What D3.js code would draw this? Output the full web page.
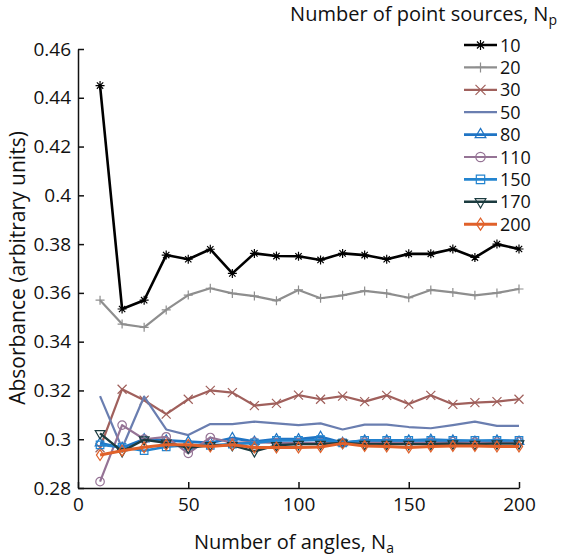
<!DOCTYPE html>
<html lang="en">
<head>
<meta charset="UTF-8">
<title>Absorbance vs number of angles</title>
<script src="https://cdn.jsdelivr.net/npm/d3@7"></script>
<style>
  body { margin: 0; background: #fff; }
  text { font-family: "Open Sans", sans-serif; fill: #111; }
</style>
</head>
<body>
<script>
var width = 567, height = 559;

// number of angles
var angles = [10, 20, 30, 40, 50, 60, 70, 80, 90, 100, 110, 120, 130, 140, 150, 160, 170, 180, 190, 200];

// absorbance for each number of point sources
var np10  = [0.445, 0.3534, 0.357, 0.3755, 0.3738, 0.3779, 0.368, 0.3762, 0.3751, 0.375, 0.3735, 0.3762, 0.3755, 0.3738, 0.376, 0.376, 0.378, 0.3745, 0.380, 0.378];
var np20  = [0.357, 0.3472, 0.3459, 0.353, 0.3591, 0.3619, 0.3598, 0.3587, 0.3568, 0.3612, 0.3578, 0.359, 0.3608, 0.3598, 0.358, 0.3612, 0.3602, 0.359, 0.360, 0.3616];
var np30  = [0.2965, 0.3205, 0.316, 0.3103, 0.3164, 0.320, 0.3191, 0.3138, 0.3147, 0.3181, 0.3164, 0.3177, 0.3154, 0.318, 0.3144, 0.318, 0.3143, 0.315, 0.3154, 0.3164];
var np50  = [0.3177, 0.2963, 0.3175, 0.304, 0.3017, 0.3062, 0.3062, 0.3072, 0.3065, 0.3058, 0.3065, 0.304, 0.306, 0.306, 0.305, 0.3045, 0.3058, 0.3072, 0.3055, 0.3055];
var np80  = [0.2984, 0.2965, 0.300, 0.2995, 0.299, 0.2985, 0.3005, 0.299, 0.300, 0.300, 0.301, 0.2985, 0.2995, 0.2995, 0.2995, 0.2998, 0.2995, 0.299, 0.2995, 0.299];
var np110 = [0.2826, 0.3058, 0.300, 0.301, 0.2942, 0.3007, 0.2985, 0.2988, 0.2985, 0.2985, 0.2985, 0.2985, 0.2988, 0.2988, 0.2985, 0.2988, 0.299, 0.2988, 0.2988, 0.299];
var np150 = [0.2977, 0.2967, 0.2953, 0.2969, 0.2975, 0.2975, 0.298, 0.2985, 0.2995, 0.2995, 0.2998, 0.2985, 0.2995, 0.2995, 0.2995, 0.2995, 0.2995, 0.2995, 0.2995, 0.2995];
var np170 = [0.3024, 0.295, 0.2998, 0.2985, 0.2965, 0.2975, 0.2975, 0.295, 0.2975, 0.298, 0.298, 0.2985, 0.298, 0.298, 0.298, 0.298, 0.2982, 0.298, 0.2982, 0.2982];
var np200 = [0.2935, 0.2953, 0.2967, 0.2977, 0.2977, 0.297, 0.2977, 0.2966, 0.2966, 0.2966, 0.2968, 0.2983, 0.2972, 0.297, 0.2966, 0.297, 0.2972, 0.2972, 0.297, 0.297];

var seriesNames = ["10", "20", "30", "50", "80", "110", "150", "170", "200"];
var seriesValues = [np10, np20, np30, np50, np80, np110, np150, np170, np200];

var xTicks = [0, 50, 100, 150, 200];
var yTicks = [0.28, 0.3, 0.32, 0.34, 0.36, 0.38, 0.4, 0.42, 0.44, 0.46];

// look of each series
var colors  = ["#000000", "#8e8e8e", "#a0605c", "#6a7eb0", "#1f74c4", "#957395", "#2384cf", "#1b3b3f", "#e0612a"];
var markers = ["asterisk", "plus", "cross", "none", "triangle", "circle", "square", "triangleDown", "diamond"];
var widths  = [2.6, 2.2, 2.2, 2.2, 2.8, 2.2, 2.6, 2.4, 3];

var svg = d3.select("body").append("svg").attr("width", width).attr("height", height);

var x = d3.scaleLinear().domain([0, 200]).range([78, 519]);
var y = d3.scaleLinear().domain([0.28, 0.46]).range([488, 49]);

// axes, ticks pointing inward
var xAxis = svg.append("g")
    .attr("transform", "translate(0," + y(0.28) + ")")
    .call(d3.axisBottom(x).tickValues(xTicks).tickSize(-6).tickSizeOuter(0).tickPadding(10));
var yAxis = svg.append("g")
    .attr("transform", "translate(" + x(0) + ",0)")
    .call(d3.axisLeft(y).tickValues(yTicks).tickSize(-6).tickSizeOuter(0).tickPadding(7)
        .tickFormat(function(d) { return String(+d.toFixed(2)); }));

[xAxis, yAxis].forEach(function(g) {
    g.select(".domain").attr("stroke", "#111").attr("stroke-width", 1.5);
    g.selectAll(".tick line").attr("stroke", "#111").attr("stroke-width", 1.5);
    g.selectAll(".tick text").attr("font-size", 19).attr("font-family", "Open Sans, sans-serif").attr("fill", "#111");
});

// marker path for a given kind
function markerPath(kind, s) {
    var h = s / 2;
    if (kind === "asterisk") {
        var d = "";
        for (var k = 0; k < 4; k++) {
            var a = k * Math.PI / 4;
            d += "M" + (-h * Math.cos(a)) + "," + (-h * Math.sin(a)) + "L" + (h * Math.cos(a)) + "," + (h * Math.sin(a));
        }
        return d;
    }
    if (kind === "plus") return "M" + (-h) + ",0L" + h + ",0M0," + (-h) + "L0," + h;
    if (kind === "cross") return "M" + (-h) + "," + (-h) + "L" + h + "," + h + "M" + (-h) + "," + h + "L" + h + "," + (-h);
    if (kind === "triangle") return d3.symbol(d3.symbolTriangle, s * s * 0.5)();
    if (kind === "triangleDown") return d3.symbol(d3.symbolTriangle, s * s * 0.5)();
    if (kind === "circle") return d3.symbol(d3.symbolCircle, s * s * 0.7)();
    if (kind === "square") return d3.symbol(d3.symbolSquare, s * s * 0.7)();
    if (kind === "diamond") return "M0," + (-h * 1.2) + "L" + (h * 0.8) + ",0L0," + (h * 1.2) + "L" + (-h * 0.8) + ",0Z";
    return null;
}

var line = d3.line()
    .x(function(d) { return x(d.n); })
    .y(function(d) { return y(d.v); });

seriesValues.forEach(function(vals, i) {
    var pts = angles.map(function(n, j) { return { n: n, v: vals[j] }; });
    var g = svg.append("g");
    g.append("path")
        .datum(pts)
        .attr("fill", "none")
        .attr("stroke", colors[i])
        .attr("stroke-width", widths[i])
        .attr("stroke-linejoin", "round")
        .attr("d", line);
    if (markers[i] !== "none") {
        g.selectAll(".m")
            .data(pts)
            .enter().append("path")
            .attr("transform", function(d) {
                return "translate(" + x(d.n) + "," + y(d.v) + ")" + (markers[i] === "triangleDown" ? " rotate(180)" : "");
            })
            .attr("d", markerPath(markers[i], 9))
            .attr("fill", "none")
            .attr("stroke", colors[i])
            .attr("stroke-width", 1.2);
    }
});

// legend
var legend = svg.append("g");
legend.append("text")
    .attr("x", 557).attr("y", 21)
    .attr("text-anchor", "end")
    .attr("font-size", 20)
    .html('Number of point sources, N<tspan font-size="14" dy="4">p</tspan>');

seriesNames.forEach(function(name, i) {
    var ly = 45 + i * 22.4;
    var row = legend.append("g").attr("transform", "translate(0," + ly + ")");
    row.append("line")
        .attr("x1", 464).attr("x2", 497)
        .attr("stroke", colors[i]).attr("stroke-width", widths[i]);
    if (markers[i] !== "none") {
        row.append("path")
            .attr("transform", "translate(480.5,0)" + (markers[i] === "triangleDown" ? " rotate(180)" : ""))
            .attr("d", markerPath(markers[i], 10))
            .attr("fill", "none")
            .attr("stroke", colors[i])
            .attr("stroke-width", 1.2);
    }
    row.append("text")
        .attr("x", 500).attr("y", 6.5)
        .attr("font-family", "Liberation Sans, Arial, sans-serif")
        .attr("font-size", 18)
        .text(name);
});

// axis titles
svg.append("text")
    .attr("x", 294).attr("y", 549)
    .attr("text-anchor", "middle")
    .attr("font-size", 20)
    .html('Number of angles, N<tspan font-size="14" dy="4">a</tspan>');

svg.append("text")
    .attr("transform", "translate(25,268) rotate(-90)")
    .attr("text-anchor", "middle")
    .attr("font-size", 21)
    .text("Absorbance (arbitrary units)");
</script>
</body>
</html>
